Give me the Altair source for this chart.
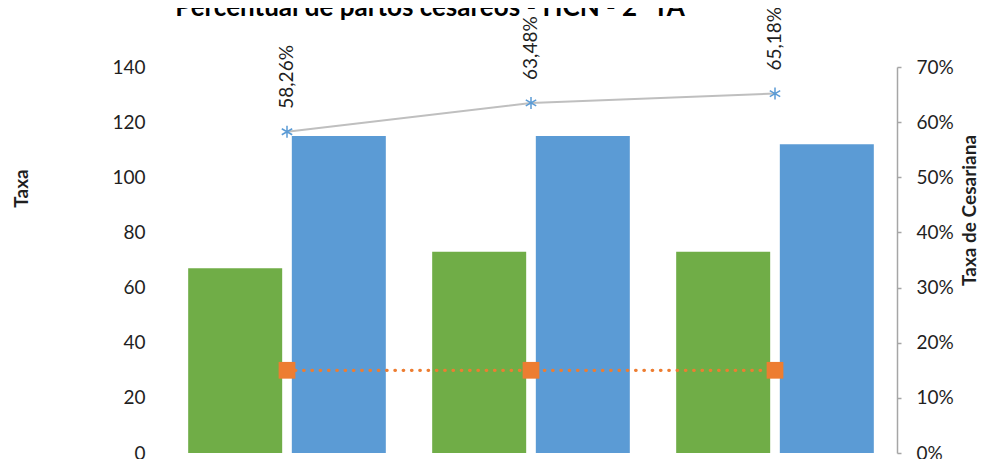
import altair as alt
import pandas as pd

# ---- data ----
categorias = ["Período 1", "Período 2", "Período 3"]
series = ["Partos cesáreos", "Total de partos"]
partos_cesareos = [67, 73, 73]
total_partos = [115, 115, 112]
taxa_cesariana = [0.5826, 0.6348, 0.6518]
meta = [0.15, 0.15, 0.15]
ticks_esq = [0, 20, 40, 60, 80, 100, 120, 140]
ticks_dir = [0, 0.1, 0.2, 0.3, 0.4, 0.5, 0.6, 0.7]

cores = ["#70AD47", "#5B9BD5"]
FONT = "Lato"
TXT = "#1f1f1f"

bars_df = pd.DataFrame({
    "categoria": categorias * 2,
    "serie": [series[0]] * 3 + [series[1]] * 3,
    "valor": partos_cesareos + total_partos,
})
line_df = pd.DataFrame({
    "categoria": categorias,
    "taxa": taxa_cesariana,
    "meta": meta,
    "rotulo": [f"{v * 100:.2f}%".replace(".", ",") for v in taxa_cesariana],
})

x = alt.X("categoria:N", sort=categorias, axis=None,
          scale=alt.Scale(paddingInner=0.19, paddingOuter=0.095))

left_axis = alt.Axis(values=ticks_esq, title="Taxa", domain=False, ticks=False, grid=False,
                     labelPadding=20, labelFontSize=19, labelFont=FONT, labelColor=TXT,
                     titleFont=FONT, titleFontSize=19, titleFontWeight="bold", titleColor=TXT,
                     titlePadding=80, titleY=121)

bars = alt.Chart(bars_df).mark_bar().encode(
    x=x,
    xOffset=alt.XOffset("serie:N", sort=series,
                        scale=alt.Scale(paddingInner=0.093, paddingOuter=0)),
    y=alt.Y("valor:Q", scale=alt.Scale(domain=[0, 140]), axis=left_axis),
    color=alt.Color("serie:N", scale=alt.Scale(domain=series, range=cores), legend=None),
)

right_axis = alt.Axis(orient="right", values=ticks_dir, format=".0%", title="Taxa de Cesariana",
                      domain=True, domainColor="#A6A6A6", domainWidth=1.5,
                      ticks=True, tickColor="#A6A6A6", tickSize=4, tickWidth=1.5, grid=False,
                      labelPadding=15, labelFontSize=19, labelFont=FONT, labelColor=TXT,
                      titleFont=FONT, titleFontSize=19, titleFontWeight="bold", titleColor=TXT,
                      titleAngle=270, titlePadding=26, titleY=143)


def yr(field):
    return alt.Y(field, type="quantitative", scale=alt.Scale(domain=[0, 0.7]), axis=right_axis)


ASTERISK = "M0,-1L0,1M-0.87,-0.5L0.87,0.5M-0.87,0.5L0.87,-0.5"

base = alt.Chart(line_df).encode(x=x)
linha = base.mark_line(color="#BFBFBF", strokeWidth=2).encode(y=yr("taxa"))
pontos = base.mark_point(shape=ASTERISK, size=144, filled=False, color="#5B9BD5",
                         strokeWidth=1.5, opacity=1).encode(y=yr("taxa"))
rotulos = base.mark_text(angle=270, align="left", baseline="middle", dx=23, fontSize=19,
                         font=FONT, color=TXT).encode(y=yr("taxa"), text="rotulo:N")
meta_linha = base.mark_line(color="#ED7D31", strokeWidth=3.3, strokeDash=[0.5, 7.8],
                            strokeCap="round").encode(y=yr("meta"))
meta_pts = base.mark_point(shape="square", filled=True, size=280, color="#ED7D31",
                           opacity=1).encode(y=yr("meta"))

direita = alt.layer(linha, meta_linha, meta_pts, pontos, rotulos)

chart = alt.layer(bars, direita).resolve_scale(y="independent").properties(
    width=732, height=386,
    title=alt.TitleParams("Percentual de partos cesáreos - HCN - 2º TA", font=FONT, fontSize=26,
                          fontWeight="bold", color="#000000", anchor="middle", frame="group",
                          baseline="alphabetic", dx=-101, dy=35, offset=0),
    autosize=alt.AutoSizeParams(type="none"),
    padding={"left": 157, "top": 59, "right": 84, "bottom": 12},
).configure_view(stroke=None)

chart.save("out.html", embed_options={"renderer": "svg", "actions": False})
